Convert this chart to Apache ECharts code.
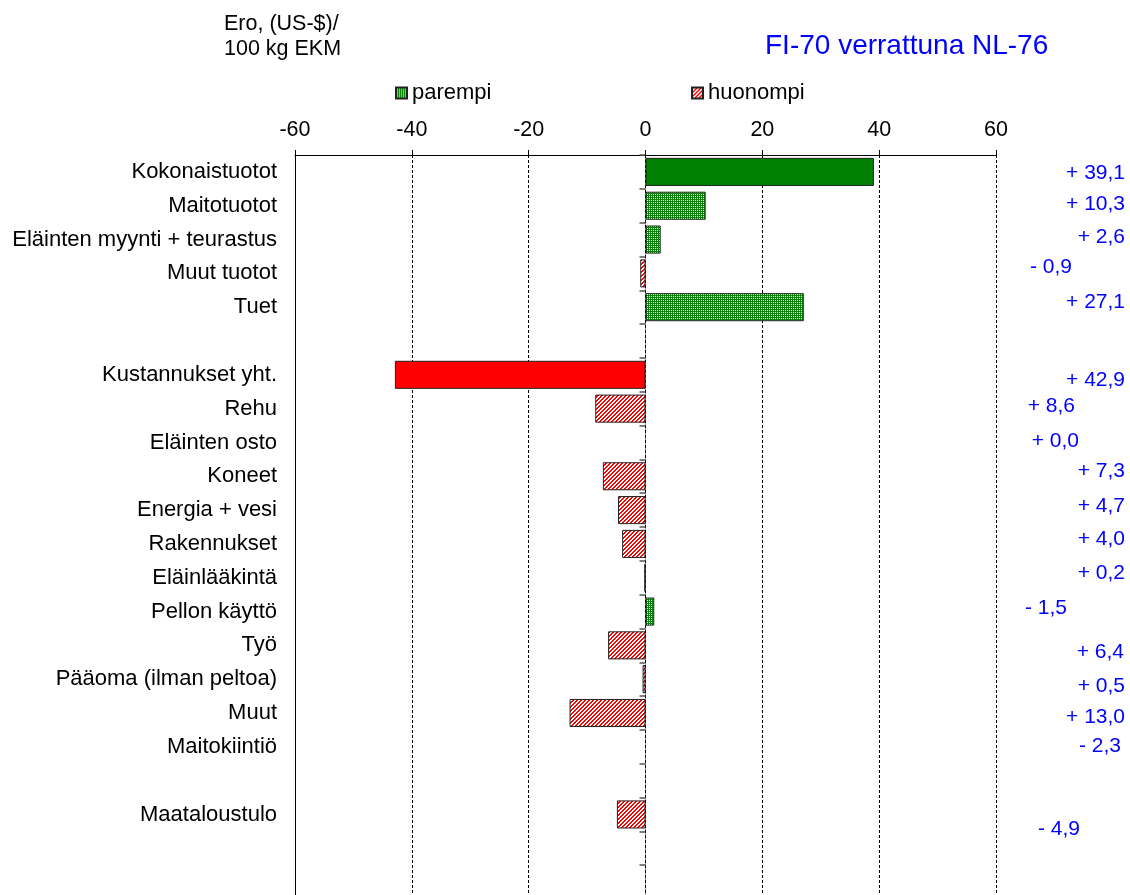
<!DOCTYPE html>
<html>
<head>
<meta charset="utf-8">
<script src="https://cdn.jsdelivr.net/npm/echarts@6/dist/echarts.min.js"></script>
<style>
  html, body { margin: 0; padding: 0; background: #fff; }
  #chart { width: 1130px; height: 895px; }
</style>
</head>
<body>
<div id="chart"></div>
<script>
// Rows of the comparison; empty names are spacer rows between the groups.
const categories = [
  'Kokonaistuotot', 'Maitotuotot', 'Eläinten myynti + teurastus', 'Muut tuotot', 'Tuet',
  '',
  'Kustannukset yht.', 'Rehu', 'Eläinten osto', 'Koneet', 'Energia + vesi', 'Rakennukset',
  'Eläinlääkintä', 'Pellon käyttö', 'Työ', 'Pääoma (ilman peltoa)', 'Muut', 'Maitokiintiö',
  '',
  'Maataloustulo',
  '', ''
];

// Effect on the result: positive = better (parempi), negative = worse (huonompi).
const effectValues = [
  39.1, 10.3, 2.6, -0.9, 27.1,
  null,
  -42.9, -8.6, 0.0, -7.3, -4.7, -4.0, -0.2, 1.5, -6.4, -0.5, -13.0, null,
  null,
  -4.9,
  null, null
];

// Difference in each item (US-$ / 100 kg EKM), shown in the right-hand column.
const differences = [
  39.1, 10.3, 2.6, -0.9, 27.1,
  null,
  42.9, 8.6, 0.0, 7.3, 4.7, 4.0, 0.2, -1.5, 6.4, 0.5, 13.0, -2.3,
  null,
  -4.9,
  null, null
];

const xTicks = { min: -60, max: 60, step: 20 };
const totalRows = [0, 6];

// Hand placement of the right-hand labels: [dx, dy] from the default spot.
const labelNudge = [
  [0, 1], [0, -2], [0, -2], [-53, -6], [0, -5],
  [0, 0],
  [0, 5], [-50, -2], [-46, -1], [0, -5], [0, -4], [0, -5], [0, -5], [-58, -3],
  [-1, 7], [0, 7], [0, 4], [-4, -1],
  [0, 0],
  [-45, 15],
  [0, 0], [0, 0]
];

const FONT = '"Liberation Sans", Arial, sans-serif';

function makePattern(w, h, draw) {
  const c = document.createElement('canvas');
  c.width = w; c.height = h;
  draw(c.getContext('2d'));
  return { image: c, repeat: 'repeat' };
}
// fine green dot screen
const greenDots = makePattern(2, 2, ctx => {
  ctx.fillStyle = '#0a850a';
  ctx.fillRect(0, 0, 2, 2);
  ctx.fillStyle = '#ffffff';
  ctx.fillRect(1, 0, 1, 1);
});
// red diagonal hatch
const redHatch = makePattern(4, 4, ctx => {
  ctx.fillStyle = '#ffffff';
  ctx.fillRect(0, 0, 4, 4);
  ctx.fillStyle = '#ff0000';
  for (let x = 0; x < 4; x++) {
    for (let y = 0; y < 4; y++) {
      if ((x + y) % 4 < 2) ctx.fillRect(x, y, 1, 1);
    }
  }
});

function fmtDiff(v) {
  const sign = v < 0 ? '-' : '+';
  return sign + ' ' + Math.abs(v).toFixed(1).replace('.', ',');
}

const betterData = effectValues.map((v, i) => {
  if (v == null || !(v > 0)) return null;
  return totalRows.includes(i) ? { value: v, itemStyle: { color: '#008000' } } : v;
});
const worseData = effectValues.map((v, i) => {
  if (v == null || !(v < 0)) return null;
  return totalRows.includes(i) ? { value: v, itemStyle: { color: '#ff0000' } } : v;
});

const chart = echarts.init(document.getElementById('chart'), null, { renderer: 'canvas' });

chart.setOption({
  animation: false,
  backgroundColor: '#ffffff',
  textStyle: { fontFamily: FONT },
  title: [
    {
      text: 'FI-70 verrattuna NL-76',
      left: 765, top: 32, padding: 0,
      textStyle: { fontFamily: FONT, fontSize: 28, fontWeight: 'normal', color: '#0000ff' }
    },
    {
      text: 'Ero, (US-$)/\n100 kg EKM',
      left: 224, top: 12, padding: 0,
      textStyle: { fontFamily: FONT, fontSize: 21.5, lineHeight: 24.5, fontWeight: 'normal', color: '#000' }
    }
  ],
  legend: [
    {
      data: ['parempi'], left: 395, top: 82, padding: 0,
      icon: 'rect', itemWidth: 11, itemHeight: 11, itemGap: 4,
      textStyle: { fontFamily: FONT, fontSize: 22, color: '#000', padding: [0, 0, 0, 0] }
    },
    {
      data: ['huonompi'], left: 691, top: 82, padding: 0,
      icon: 'rect', itemWidth: 11, itemHeight: 11, itemGap: 4,
      textStyle: { fontFamily: FONT, fontSize: 22, color: '#000', padding: [0, 0, 0, 0] }
    }
  ],
  grid: { left: 295, top: 155, width: 701, height: 744, containLabel: false, outerBoundsMode: 'none' },
  xAxis: {
    type: 'value',
    position: 'top',
    min: xTicks.min, max: xTicks.max, interval: xTicks.step,
    axisLine: { show: true, onZero: false, lineStyle: { color: '#000', width: 1 } },
    axisTick: { show: true, inside: false, length: 5, lineStyle: { color: '#000' } },
    axisLabel: { fontFamily: FONT, fontSize: 21.5, color: '#000', margin: 14 },
    splitLine: { show: true, lineStyle: { color: '#000', width: 1, type: [3, 2] } }
  },
  yAxis: [
    {
      type: 'category',
      inverse: true,
      data: categories,
      axisLine: { show: true, onZero: false, lineStyle: { color: '#000', width: 1 } },
      axisTick: { show: false },
      axisLabel: { fontFamily: FONT, fontSize: 22, color: '#000', margin: 18, interval: 0 },
      splitLine: { show: false }
    },
    {
      type: 'category',
      inverse: true,
      position: 'left',
      data: categories,
      axisLine: { show: true, onZero: true, lineStyle: { color: '#000', width: 1, type: [3, 2] } },
      axisTick: { show: true, length: 6, lineStyle: { color: '#555', width: 1.5 } },
      axisLabel: { show: false },
      splitLine: { show: false }
    }
  ],
  series: [
    {
      name: 'parempi',
      type: 'bar',
      stack: 'effect',
      yAxisIndex: 0,
      barWidth: '83%',
      itemStyle: { color: greenDots, borderColor: '#222', borderWidth: 1 },
      data: betterData
    },
    {
      name: 'huonompi',
      type: 'bar',
      stack: 'effect',
      yAxisIndex: 0,
      barWidth: '83%',
      itemStyle: { color: redHatch, borderColor: '#222', borderWidth: 1 },
      data: worseData
    },
    {
      name: 'ero',
      type: 'custom',
      yAxisIndex: 0,
      clip: false,
      silent: true,
      data: differences.map((v, i) => [0, i]),
      renderItem: function (params, api) {
        const idx = api.value(1);
        const v = differences[idx];
        if (v == null) return null;
        const cs = params.coordSys;
        const pt = api.coord([0, idx]);
        const nudge = labelNudge[idx] || [0, 0];
        return {
          type: 'text',
          x: cs.x + cs.width + 129 + nudge[0],
          y: pt[1] + nudge[1],
          style: {
            text: fmtDiff(v),
            fill: '#0000ff',
            font: '21px ' + FONT,
            align: 'right',
            verticalAlign: 'middle'
          }
        };
      }
    }
  ]
});
</script>
</body>
</html>
